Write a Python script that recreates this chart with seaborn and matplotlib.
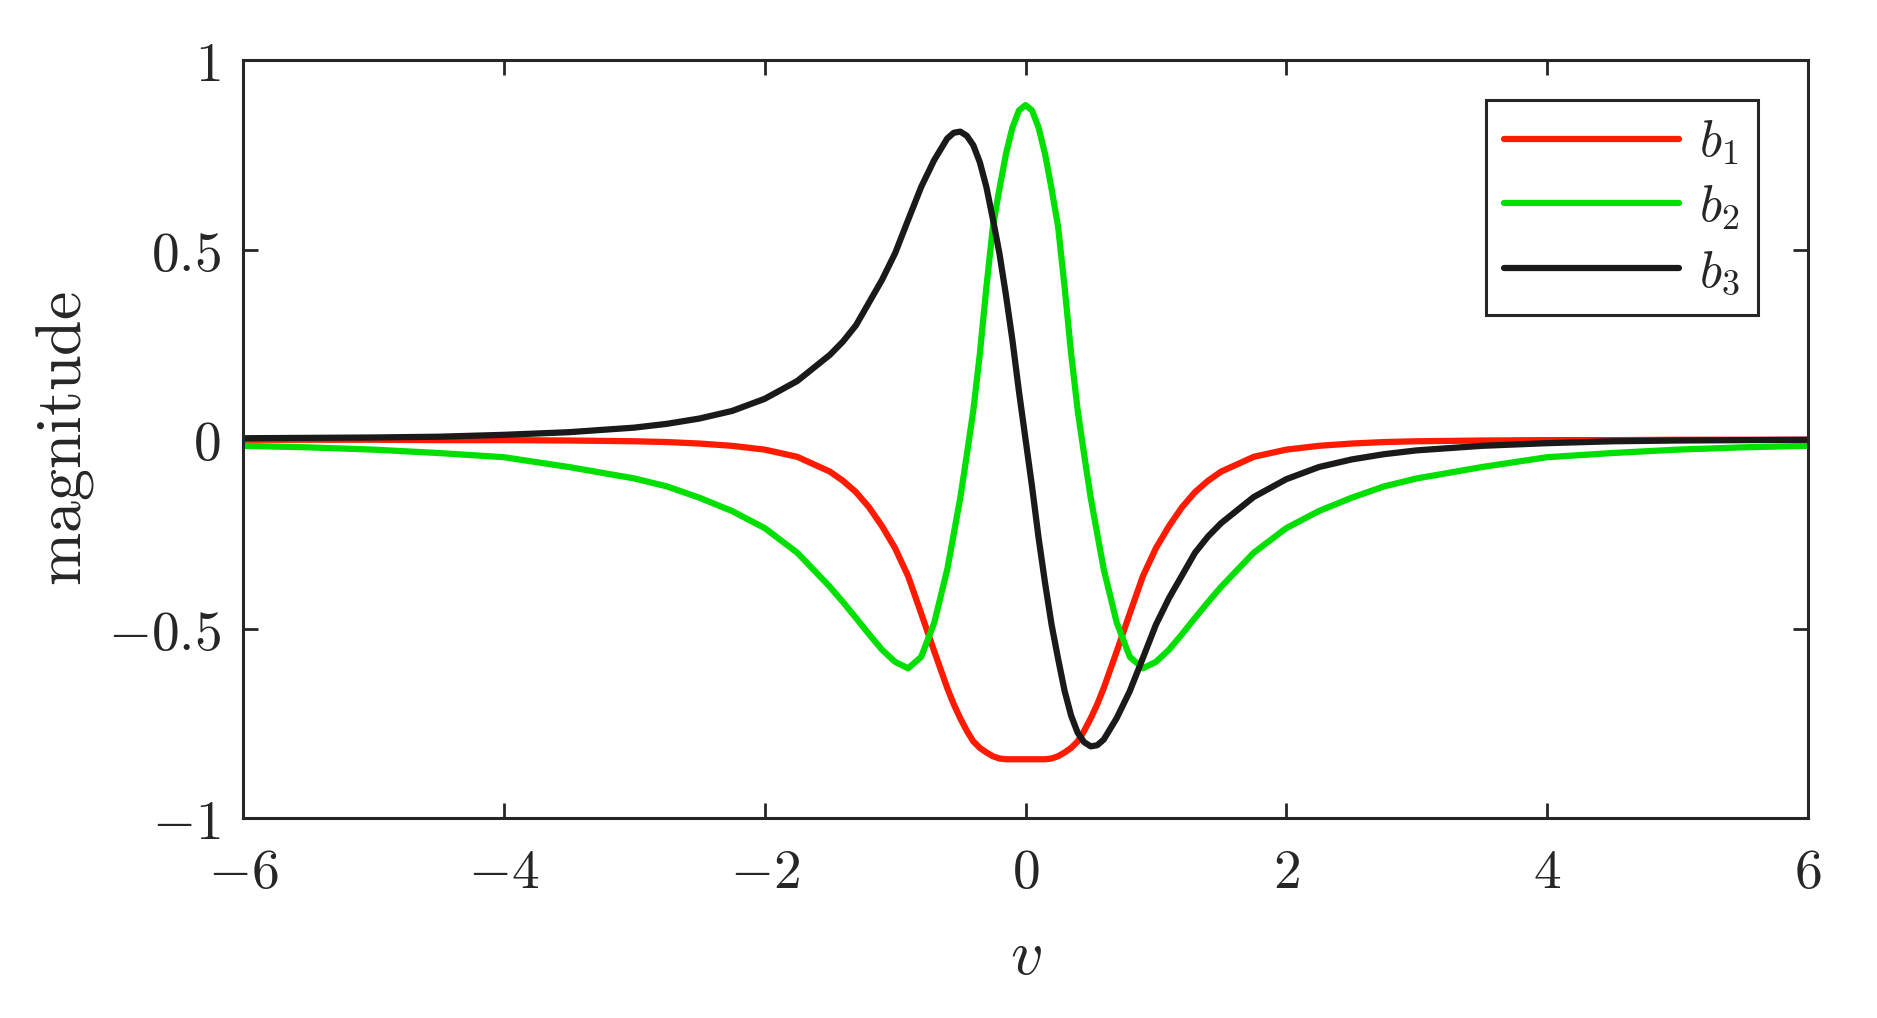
import numpy as np
import pandas as pd
import matplotlib
matplotlib.use("Agg")
import matplotlib.pyplot as plt
import seaborn as sns

# ---- data ----
v = [-6.0, -5.5, -5.0, -4.5, -4.0, -3.5, -3.0, -2.75, -2.5, -2.25, -2.0, -1.75,
     -1.5, -1.4, -1.3, -1.2, -1.1, -1.0, -0.9, -0.8, -0.7, -0.6, -0.55, -0.5,
     -0.45, -0.4, -0.35, -0.3, -0.25, -0.2, -0.15, -0.1, -0.05, 0.0,
     0.05, 0.1, 0.15, 0.2, 0.25, 0.3, 0.35, 0.4, 0.45, 0.5, 0.55, 0.6, 0.7,
     0.8, 0.9, 1.0, 1.1, 1.2, 1.3, 1.4, 1.5, 1.75, 2.0, 2.25, 2.5, 2.75, 3.0,
     3.5, 4.0, 4.5, 5.0, 5.5, 6.0]

b1 = [-0.002, -0.002, -0.002, -0.003, -0.003, -0.004, -0.006, -0.008, -0.012,
      -0.018, -0.028, -0.047, -0.086, -0.11, -0.14, -0.18, -0.23, -0.288,
      -0.362, -0.46, -0.56, -0.657, -0.70, -0.737, -0.77, -0.798, -0.815,
      -0.827, -0.837, -0.843, -0.845, -0.845, -0.845, -0.845,
      -0.845, -0.845, -0.845, -0.843, -0.837, -0.827, -0.815, -0.798, -0.77,
      -0.737, -0.70, -0.657, -0.56, -0.46, -0.362, -0.288, -0.23, -0.18,
      -0.14, -0.11, -0.086, -0.047, -0.028, -0.018, -0.012, -0.008, -0.006,
      -0.004, -0.003, -0.003, -0.002, -0.002, -0.002]

b2 = [-0.018, -0.022, -0.028, -0.037, -0.048, -0.074, -0.104, -0.125, -0.155,
      -0.19, -0.235, -0.30, -0.39, -0.43, -0.472, -0.515, -0.556, -0.588,
      -0.605, -0.575, -0.485, -0.344, -0.25, -0.155, -0.042, 0.076, 0.225,
      0.40, 0.56, 0.66, 0.752, 0.822, 0.867, 0.881,
      0.867, 0.822, 0.752, 0.66, 0.56, 0.40, 0.225, 0.076, -0.042, -0.155,
      -0.25, -0.344, -0.485, -0.575, -0.605, -0.588, -0.556, -0.515, -0.472,
      -0.43, -0.39, -0.30, -0.235, -0.19, -0.155, -0.125, -0.104, -0.074,
      -0.048, -0.037, -0.028, -0.022, -0.018]

b3 = [0.002, 0.003, 0.004, 0.006, 0.011, 0.018, 0.030, 0.040, 0.054, 0.074,
      0.106, 0.153, 0.222, 0.257, 0.30, 0.36, 0.42, 0.49, 0.578, 0.665, 0.736,
      0.793, 0.808, 0.811, 0.80, 0.775, 0.73, 0.665, 0.58, 0.49, 0.38, 0.26,
      0.125, 0.0,
      -0.125, -0.26, -0.38, -0.49, -0.58, -0.665, -0.73, -0.775, -0.80,
      -0.811, -0.808, -0.793, -0.736, -0.665, -0.578, -0.49, -0.42, -0.36,
      -0.30, -0.257, -0.222, -0.153, -0.106, -0.074, -0.054, -0.040, -0.030,
      -0.018, -0.011, -0.006, -0.004, -0.003, -0.002]

series_names = ["$b_1$", "$b_2$", "$b_3$"]
series_colors = ["#ff1a00", "#00e000", "#1a1a1a"]
x_ticks = [-6, -4, -2, 0, 2, 4, 6]
y_ticks = [-1, -0.5, 0, 0.5, 1]

# ---- style ----
sns.set_theme(style="white")
plt.rcParams["mathtext.fontset"] = "cm"
plt.rcParams["font.family"] = ["DejaVu Serif"]
plt.rcParams["axes.unicode_minus"] = False

df = pd.concat([
    pd.DataFrame({"v": v, "val": b1, "series": series_names[0]}),
    pd.DataFrame({"v": v, "val": b2, "series": series_names[1]}),
    pd.DataFrame({"v": v, "val": b3, "series": series_names[2]}),
], ignore_index=True)

fig = plt.figure(figsize=(18.77, 10.18), dpi=100)
ax = fig.add_axes([243 / 1877, 1 - 818 / 1018, (1808 - 243) / 1877, (818 - 60) / 1018])

sns.lineplot(data=df, x="v", y="val", hue="series", hue_order=series_names,
             palette=dict(zip(series_names, series_colors)), estimator=None,
             sort=False, linewidth=4.5, ax=ax)

ax.set_xlim(-6, 6)
ax.set_ylim(-1, 1)

def fmt(t):
    return "$" + ("%g" % t) + "$"

ax.set_xticks(x_ticks, labels=[fmt(t) for t in x_ticks])
ax.set_yticks(y_ticks, labels=[fmt(t) for t in y_ticks])
ax.tick_params(axis="both", which="both", direction="in", length=11, width=2,
               colors="#262626", labelsize=40, top=True, right=True,
               bottom=True, left=True)
ax.tick_params(axis="x", pad=20)
ax.tick_params(axis="y", pad=16)
for sp in ax.spines.values():
    sp.set_visible(True)
    sp.set_color("#262626")
    sp.set_linewidth(2.2)

ax.set_xlabel("$v$", fontsize=46, color="#262626", labelpad=18)
ax.set_ylabel(r"$\mathrm{magnitude}$", fontsize=46, color="#262626", labelpad=8)

leg = ax.legend(loc="upper right", bbox_to_anchor=(0.968, 0.947), borderaxespad=0,
                fontsize=37, frameon=True, fancybox=False, handlelength=3.4,
                handletextpad=0.4, labelspacing=0.3, borderpad=0.35)
leg.get_frame().set_edgecolor("#262626")
leg.get_frame().set_linewidth(2.2)
leg.get_frame().set_facecolor("white")
leg.get_frame().set_alpha(1)
for line in leg.get_lines():
    line.set_linewidth(4.5)

fig.savefig("out.png", dpi=100, facecolor="white")
